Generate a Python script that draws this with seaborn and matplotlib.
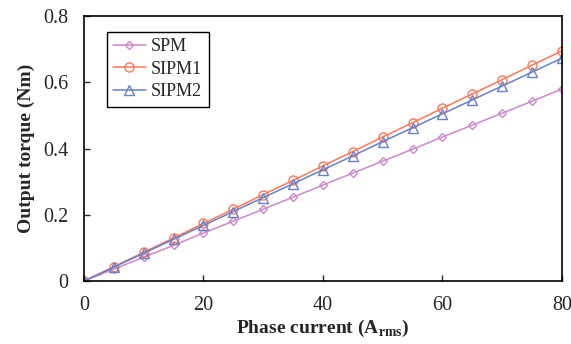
import pandas as pd
import seaborn as sns
import matplotlib.pyplot as plt

# phase current (A rms) and torque (Nm)
current = [0, 5, 10, 15, 20, 25, 30, 35, 40, 45, 50, 55, 60, 65, 70, 75, 80]
spm = [0, 0.036, 0.072, 0.108, 0.145, 0.181, 0.217, 0.253, 0.29, 0.326,
       0.362, 0.398, 0.435, 0.471, 0.507, 0.543, 0.58]
sipm1 = [0, 0.043, 0.087, 0.130, 0.174, 0.217, 0.261, 0.304, 0.348, 0.391,
         0.435, 0.478, 0.522, 0.565, 0.608, 0.652, 0.695]
sipm2 = [0, 0.042, 0.084, 0.126, 0.168, 0.210, 0.252, 0.294, 0.336, 0.378,
         0.421, 0.463, 0.505, 0.547, 0.589, 0.631, 0.673]
names = ['SPM', 'SIPM1', 'SIPM2']

df = pd.DataFrame({
    'current': current * 3,
    'torque': spm + sipm1 + sipm2,
    'motor': [n for n in names for _ in current],
})

sns.set_style('ticks')
plt.rcParams['font.family'] = ['Liberation Serif', 'DejaVu Serif']
plt.rcParams['mathtext.fontset'] = 'custom'
plt.rcParams['mathtext.rm'] = 'Liberation Serif'
plt.rcParams['mathtext.bf'] = 'Liberation Serif:bold'

colors = {'SPM': '#cc88cc', 'SIPM1': '#ff7755', 'SIPM2': '#6680cc'}
markers = {'SPM': 'D', 'SIPM1': 'o', 'SIPM2': '^'}
msize = {'SPM': 4.5, 'SIPM1': 6.5, 'SIPM2': 6.5}

fig = plt.figure(figsize=(5.71, 3.44), dpi=100)
ax = fig.add_axes([0.147, 0.183, 0.837, 0.770])

sns.lineplot(data=df, x='current', y='torque', hue='motor', style='motor',
             palette=colors, markers=markers, dashes=False, legend=False,
             hue_order=names, style_order=names, ax=ax, linewidth=1.1)

for line, name in zip(ax.lines, names):
    c = line.get_color()
    line.set_markerfacecolor('none')
    line.set_markeredgecolor(c)
    line.set_markeredgewidth(1.0)
    line.set_markersize(msize[name])
    line.set_label(name)

ax.set_xlim(0, 80)
ax.set_ylim(0, 0.8)
ax.set_xticks([0, 20, 40, 60, 80])
ax.set_yticks([0, 0.2, 0.4, 0.6, 0.8])
ax.set_yticklabels(['0', '0.2', '0.4', '0.6', '0.8'])
ax.tick_params(direction='in', labelsize=14.5, length=4, width=1)
ax.tick_params(axis='x', pad=11)
ax.tick_params(axis='y', pad=11)
for s in ax.spines.values():
    s.set_linewidth(1.2)
    s.set_color('black')

ax.set_xlabel(r'Phase current (A$_{\mathbf{rms}}$)', fontsize=14, fontweight='bold', labelpad=2)
ax.set_ylabel('Output torque (Nm)', fontsize=14, fontweight='bold', labelpad=6)

leg = ax.legend(handles=ax.lines[:3], loc='upper left', bbox_to_anchor=(0.048, 0.94),
                borderaxespad=0, fontsize=13, handlelength=1.8, handletextpad=0.3,
                borderpad=0.35, labelspacing=0.3, fancybox=False,
                edgecolor='black', framealpha=1)
leg.get_frame().set_linewidth(1.0)

fig.savefig('out.png', dpi=100)
